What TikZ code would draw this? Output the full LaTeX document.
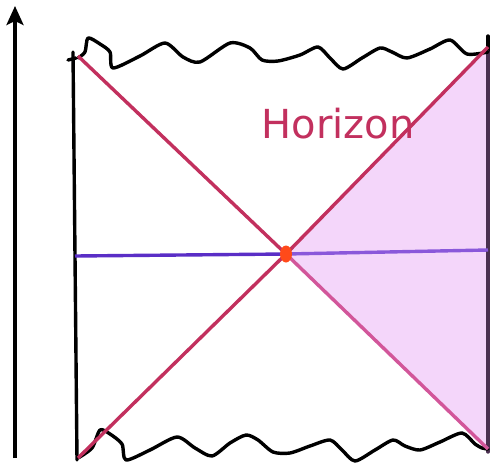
\documentclass[tikz,border=0pt]{standalone}
\usepackage{fontspec}
\setmainfont{DejaVu Sans}
\usetikzlibrary{arrows.meta}
\definecolor{horizonred}{HTML}{C2305E}
\definecolor{pinkfill}{HTML}{F4D6FA}
\definecolor{lowerpink}{HTML}{D2569A}
\definecolor{bluedark}{HTML}{5A2EC6}
\definecolor{bluelight}{HTML}{8A58DA}
\definecolor{dotred}{HTML}{FF4A1A}
\definecolor{edgeinpink}{HTML}{4A3050}
\tikzset{
  edge/.style={black, line width=3.4pt, line join=round, line cap=round},
  horizonline/.style={horizonred, line width=3.4pt},
  sliceline/.style={line width=3.4pt},
}
\begin{document}
\begin{tikzpicture}[x=1pt, y=-1pt]
\useasboundingbox (0,0) rectangle (500,469);
\coordinate (TL) at (78,56);
\coordinate (TR) at (488,47);
\coordinate (BL) at (78,458);
\coordinate (BR) at (488,449);
\coordinate (C) at (286,254);
\coordinate (HL) at (75,256);
\coordinate (HR) at (488,250);
% shaded wedge
\fill[pinkfill] (C) -- (TR) -- (BR) -- cycle;
% time arrow
\coordinate (ArrB) at (15,458);
\coordinate (ArrT) at (15,6);
\draw[black, line width=3.4pt, -{Stealth[length=19pt,width=17pt,inset=4pt]}] (ArrB) -- (ArrT);
% boundaries
\draw[edge] (73,52) -- (77,460);
\draw[edge] (68,60) -- (76,58);
\draw[edge] (488,36) -- (488,52);
\draw[edge, edgeinpink] (488,52) -- (488,452);
% wavy top
\draw[edge] plot[smooth, tension=0.45] coordinates {(78,58) (85,52) (88,38) (100,44) (110,52) (113,68) (140,56) (165,43) (183,57) (200,62) (230,43) (250,48) (262,60) (278,61) (300,55) (318,47) (330,58) (343,69) (362,58) (380,48) (392,52) (407,58) (430,49) (450,40) (467,54) (488,52)};
% wavy bottom
\draw[edge] plot[smooth, tension=0.45] coordinates {(78,458) (92,448) (100,430) (110,434) (122,444) (126,460) (150,450) (177,437) (195,448) (212,456) (230,443) (246,435) (258,440) (273,452) (290,453) (310,446) (330,440) (342,450) (355,461) (375,450) (393,440) (405,446) (420,450) (440,442) (462,433) (475,444) (482,448) (488,449)};
% horizontal slice
\draw[sliceline, bluedark] (HL) -- (C);
\draw[sliceline, bluelight] (C) -- (HR);
% horizons
\draw[horizonline] (TL) -- (C);
\draw[horizonline] (BL) -- (C);
\draw[horizonline] (C) -- (TR);
\draw[horizonline, lowerpink] (C) -- (BR);
% bifurcation point
\fill[dotred] (C) ellipse (6pt and 8.5pt);
% label
\node[horizonred, font=\fontsize{40}{44}\selectfont, anchor=base] (lbl) at (338,138) {Horizon};
\end{tikzpicture}
\end{document}
